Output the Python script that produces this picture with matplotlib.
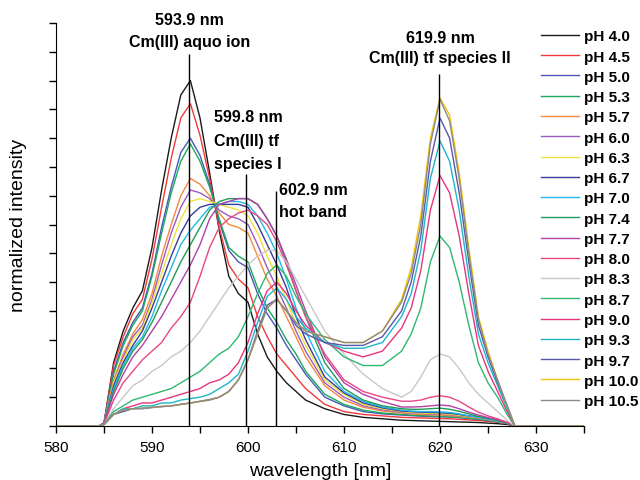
import matplotlib
matplotlib.use("Agg")
import matplotlib.pyplot as plt
from matplotlib.ticker import MultipleLocator

plt.rcParams['font.family'] = ['Liberation Sans', 'DejaVu Sans']

# wavelength grid (nm) shared by all spectra
wavelength = [580, 584.5, 585, 586, 587, 588, 589, 590, 591, 592, 593, 594, 595, 596, 597, 598, 599,
              600, 601, 602, 603, 604, 605, 606, 608, 610, 612, 614, 616, 617, 618, 619, 620, 621,
              622, 623, 624, 625, 626, 627, 627.8, 635]

ph_40 = [0, 0, .01, .22, .33, .41, .47, .62, .82, 1.00, 1.15, 1.20, 1.07, .88, .68, .52, .46, .43, .32, .24,
         .19, .15, .12, .09, .06, .04, .03, .025, .02, .019, .018, .017, .016, .015, .014, .013, .012, .01,
         .008, .005, 0, 0]
ph_45 = [0, 0, .01, .21, .31, .39, .44, .58, .76, .93, 1.07, 1.12, 1.01, .86, .69, .56, .51, .48, .38, .31,
         .25, .21, .17, .13, .075, .05, .04, .035, .03, .029, .028, .027, .026, .025, .023, .021, .019, .016,
         .013, .008, 0, 0]
ph_50 = [0, 0, .01, .19, .29, .36, .41, .53, .69, .83, .95, 1.00, .94, .84, .71, .61, .57, .55, .46, .39,
         .34, .28, .23, .18, .10, .07, .05, .042, .038, .036, .034, .033, .032, .031, .029, .026, .023, .019,
         .015, .009, 0, 0]
ph_53 = [0, 0, .01, .18, .28, .35, .40, .52, .67, .81, .92, .98, .92, .83, .72, .62, .59, .57, .48, .41,
         .36, .30, .25, .19, .11, .075, .055, .045, .04, .038, .036, .035, .034, .032, .03, .027, .024, .02,
         .015, .009, 0, 0]
ph_57 = [0, 0, .01, .16, .25, .32, .37, .46, .59, .70, .80, .86, .84, .80, .74, .70, .69, .67, .59, .51,
         .45, .38, .31, .24, .14, .09, .065, .052, .045, .042, .04, .039, .038, .036, .033, .03, .027, .022,
         .017, .01, 0, 0]
ph_60 = [0, 0, .01, .15, .24, .31, .35, .44, .56, .67, .76, .82, .81, .79, .75, .73, .72, .70, .63, .55,
         .48, .41, .33, .26, .15, .10, .07, .056, .048, .045, .043, .042, .041, .039, .035, .032, .028, .023,
         .018, .011, 0, 0]
ph_63 = [0, 0, .01, .15, .23, .30, .34, .43, .53, .63, .72, .78, .79, .78, .77, .76, .75, .73, .67, .59,
         .52, .44, .35, .28, .16, .11, .075, .06, .05, .047, .045, .044, .043, .041, .037, .033, .029, .024,
         .019, .011, 0, 0]
ph_67 = [0, 0, .01, .14, .22, .28, .33, .41, .50, .59, .67, .73, .76, .77, .77, .77, .77, .76, .70, .63,
         .56, .48, .38, .30, .17, .115, .08, .063, .052, .05, .048, .047, .046, .044, .04, .035, .031, .025,
         .02, .012, 0, 0]
ph_70 = [0, 0, .01, .13, .21, .27, .31, .38, .47, .55, .63, .68, .72, .76, .77, .78, .78, .77, .73, .67,
         .60, .51, .41, .33, .19, .12, .085, .066, .055, .052, .05, .05, .049, .047, .042, .035, .03, .024,
         .018, .01, 0, 0]
ph_74 = [0, 0, .01, .12, .20, .26, .30, .36, .43, .50, .57, .63, .69, .75, .78, .79, .79, .79, .77, .72,
         .66, .57, .47, .38, .22, .13, .09, .07, .06, .058, .058, .06, .062, .058, .051, .042, .033, .027,
         .02, .01, 0, 0]
ph_77 = [0, 0, .01, .11, .18, .24, .28, .33, .38, .44, .50, .56, .63, .72, .77, .78, .79, .79, .77, .72,
         .66, .58, .49, .40, .24, .15, .11, .085, .066, .066, .067, .07, .073, .07, .06, .048, .038, .029,
         .022, .012, 0, 0]
ph_80 = [0, 0, .005, .09, .15, .19, .23, .26, .29, .34, .38, .43, .52, .62, .69, .72, .74, .75, .73, .70,
         .64, .56, .47, .38, .25, .16, .12, .10, .086, .086, .09, .10, .105, .10, .086, .066, .048, .035,
         .025, .013, 0, 0]
ph_83 = [0, 0, .005, .06, .10, .14, .16, .19, .21, .24, .26, .29, .33, .38, .43, .48, .52, .56, .59, .61,
         .61, .57, .51, .45, .33, .25, .18, .13, .10, .12, .17, .23, .25, .24, .20, .15, .11, .08, .05, .02,
         0, 0]
ph_87 = [0, 0, .005, .05, .07, .09, .10, .11, .12, .13, .15, .17, .19, .22, .25, .27, .31, .38, .46, .53,
         .56, .52, .45, .39, .30, .24, .21, .21, .26, .32, .41, .57, .66, .62, .50, .35, .22, .15, .10, .04,
         0, 0]
ph_90 = [0, 0, .005, .04, .06, .07, .08, .08, .09, .10, .11, .12, .13, .15, .16, .18, .22, .29, .39, .47,
         .50, .46, .40, .35, .29, .26, .24, .26, .34, .41, .54, .75, .87, .81, .66, .46, .28, .19, .12, .05,
         0, 0]
ph_93 = [0, 0, .005, .04, .06, .06, .07, .07, .08, .08, .09, .095, .10, .11, .13, .15, .18, .26, .36, .45,
         .48, .44, .38, .34, .29, .27, .27, .29, .38, .46, .61, .86, .99, .92, .75, .52, .32, .22, .14, .06,
         0, 0]
ph_97 = [0, 0, .005, .04, .05, .06, .06, .064, .067, .07, .075, .08, .086, .092, .10, .12, .16, .23, .33,
         .42, .44, .40, .35, .32, .29, .28, .28, .31, .40, .50, .66, .92, 1.07, 1.00, .81, .57, .35, .24,
         .15, .07, 0, 0]
ph_100 = [0, 0, .005, .04, .055, .06, .062, .065, .068, .07, .075, .08, .085, .09, .10, .12, .16, .23, .32,
          .41, .44, .40, .36, .33, .31, .29, .29, .33, .44, .55, .73, 1.00, 1.14, 1.08, .88, .62, .38, .26,
          .16, .07, 0, 0]
ph_105 = [0, 0, .005, .04, .055, .06, .062, .065, .068, .07, .075, .08, .085, .09, .10, .12, .16, .23, .32,
          .41, .44, .40, .36, .33, .31, .29, .29, .33, .43, .53, .70, .98, 1.135, 1.06, .86, .60, .37, .25,
          .16, .07, 0, 0]

labels = ['pH 4.0', 'pH 4.5', 'pH 5.0', 'pH 5.3', 'pH 5.7', 'pH 6.0', 'pH 6.3', 'pH 6.7', 'pH 7.0',
          'pH 7.4', 'pH 7.7', 'pH 8.0', 'pH 8.3', 'pH 8.7', 'pH 9.0', 'pH 9.3', 'pH 9.7', 'pH 10.0',
          'pH 10.5']
spectra = [ph_40, ph_45, ph_50, ph_53, ph_57, ph_60, ph_63, ph_67, ph_70, ph_74, ph_77, ph_80, ph_83,
           ph_87, ph_90, ph_93, ph_97, ph_100, ph_105]
colors = ['#1a1a1a', '#f03a3a', '#4858b8', '#1aa85a', '#f58a3c', '#9a5cc0', '#f0e23a', '#3a3a98',
          '#22b8e6', '#23985a', '#b040a8', '#ea4686', '#c8c8c8', '#2fb870', '#e8347e', '#1cb6c8',
          '#5858aa', '#f5c400', '#8a8a8a']

fig = plt.figure(figsize=(6.4, 4.81), dpi=100)
ax = fig.add_axes([0.0875, 0.1123, 0.825, 0.8377])

for y, lab, c in zip(spectra, labels, colors):
    ax.plot(wavelength, y, color=c, lw=1.0, label=lab)

# band markers
ax.vlines([593.9, 599.8, 602.9, 619.9], 0, [1.292, 0.875, 0.816, 1.223], color='black', lw=1.0)

bold = dict(fontsize=11.5, fontweight='bold')
ax.text(593.9, 1.414, '593.9 nm', ha='center', va='center', **bold)
ax.text(593.9, 1.337, 'Cm(III) aquo ion', ha='center', va='center', **bold)
ax.text(596.5, 1.077, '599.8 nm', ha='left', va='center', **bold)
ax.text(596.5, 0.993, 'Cm(III) tf', ha='left', va='center', **bold)
ax.text(596.5, 0.913, 'species I', ha='left', va='center', **bold)
ax.text(603.2, 0.823, '602.9 nm', ha='left', va='center', **bold)
ax.text(603.2, 0.745, 'hot band', ha='left', va='center', **bold)
ax.text(620.0, 1.351, '619.9 nm', ha='center', va='center', **bold)
ax.text(620.0, 1.282, 'Cm(III) tf species II', ha='center', va='center', **bold)

ax.set_xlim(580, 635)
ax.set_ylim(0, 1.4)
ax.xaxis.set_major_locator(MultipleLocator(10))
ax.xaxis.set_minor_locator(MultipleLocator(5))
ax.yaxis.set_major_locator(MultipleLocator(0.1))
ax.set_yticklabels([])
ax.tick_params(axis='both', direction='out', length=5, width=1, labelsize=11, pad=5)
ax.tick_params(axis='x', which='minor', direction='out', length=5, width=1)
ax.spines['top'].set_visible(False)
ax.spines['right'].set_visible(False)

ax.set_xlabel('wavelength [nm]', fontsize=14)
ax.set_ylabel('normalized intensity', fontsize=14)
ax.xaxis.set_label_coords(0.5, -0.09)
ax.yaxis.set_label_coords(-0.055, 0.5)

leg = fig.legend(loc='upper left', bbox_to_anchor=(0.845, 0.937), frameon=False,
                 prop={'weight': 'bold', 'size': 11}, handlelength=2.5, handletextpad=0.3,
                 labelspacing=0.41, borderpad=0, borderaxespad=0)

fig.savefig('out.png', dpi=100)
